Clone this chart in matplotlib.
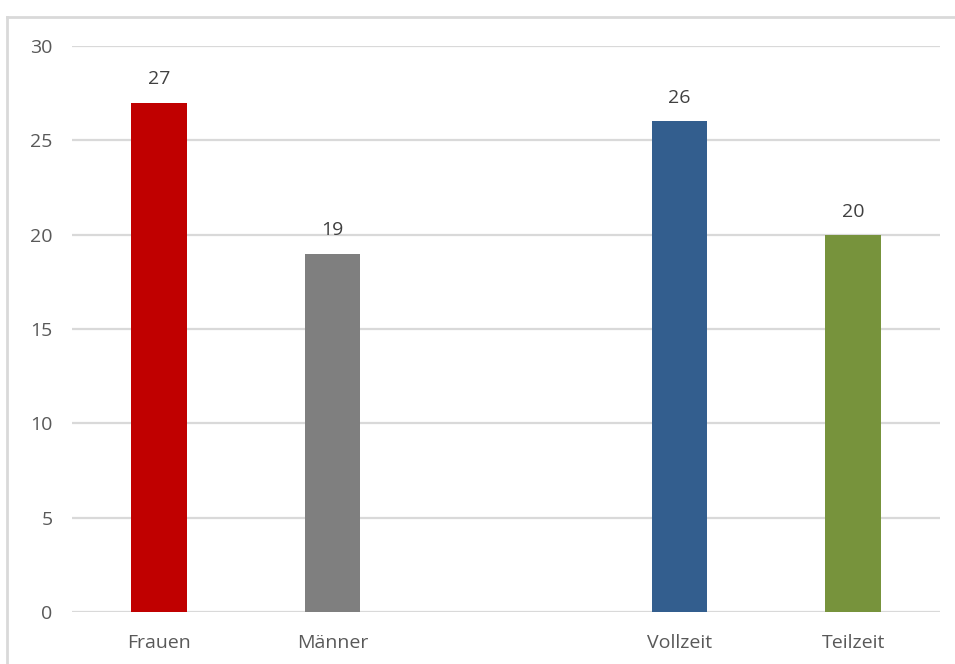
import matplotlib
matplotlib.use("Agg")
import matplotlib.pyplot as plt
from matplotlib.lines import Line2D

categories = ["Frauen", "Männer", "", "Vollzeit", "Teilzeit"]
values = [27, 19, None, 26, 20]
colors = ["#C00000", "#7F7F7F", None, "#335E8E", "#77933C"]
yticks = [0, 5, 10, 15, 20, 25, 30]

plt.rcParams['font.family'] = ['Open Sans', 'DejaVu Sans']
W, H = 955, 664
fig = plt.figure(figsize=(W/100, H/100), dpi=100)
ax = fig.add_axes([72/W, 1-612/H, (940-72)/W, (612-46)/H])

FS = 14
for i, (v, c) in enumerate(zip(values, colors)):
    if v is None:
        continue
    ax.bar(i, v, width=0.32, color=c, zorder=3)
    ax.text(i, v + 0.75, str(v), ha='center', va='bottom', fontsize=FS, color='#404040')

ax.set_xlim(-0.5, len(categories) - 0.5)
ax.set_ylim(0, 30)
ax.set_yticks(yticks)
ax.set_yticklabels([str(t) for t in yticks], fontsize=FS, color='#595959')
ax.set_xticks(range(len(categories)))
ax.set_xticklabels(categories, fontsize=FS, color='#595959')
ax.tick_params(axis='both', length=0)
ax.tick_params(axis='y', pad=14)
ax.tick_params(axis='x', pad=16)
ax.grid(axis='y', color='#D9D9D9', linewidth=1.6, zorder=0)
for s in ax.spines.values():
    s.set_visible(False)
ax.set_axisbelow(True)

# outer chart border (partially visible)
fig.add_artist(Line2D([7/W, 1], [1-17/H, 1-17/H], color='#D9D9D9', lw=2, transform=fig.transFigure))
fig.add_artist(Line2D([7/W, 7/W], [0, 1-17/H], color='#D9D9D9', lw=2, transform=fig.transFigure))

fig.savefig("out.png", dpi=100)
